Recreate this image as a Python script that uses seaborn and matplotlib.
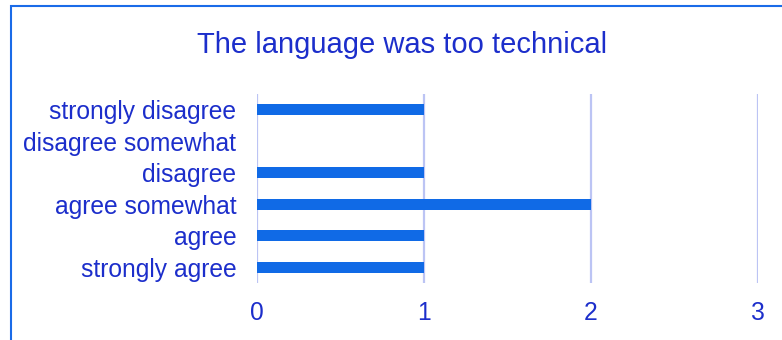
import matplotlib
matplotlib.use("Agg")
import matplotlib.pyplot as plt
from matplotlib.patches import Rectangle
import seaborn as sns
import pandas as pd

# Survey responses for the statement
categories = ["strongly disagree", "disagree somewhat", "disagree",
              "agree somewhat", "agree", "strongly agree"]
counts = [1, 0, 1, 2, 1, 1]
x_ticks = [0, 1, 2, 3]
title = "The language was too technical"

text_color = "#1c2ecb"
bar_color = "#106ae6"
grid_color = "#bcc4f4"
frame_color = "#1a6be8"

sns.set_theme(style="white")
plt.rcParams["font.family"] = ["Liberation Sans", "DejaVu Sans"]

df = pd.DataFrame({"response": categories, "count": counts})

fig = plt.figure(figsize=(7.82, 3.40), dpi=100)
ax = fig.add_axes([257 / 782, 1 - 283 / 340, 501 / 782, 189 / 340])

sns.barplot(data=df, x="count", y="response", orient="h", order=categories,
            color=bar_color, saturation=1, width=0.35, linewidth=0,
            ax=ax, zorder=3)

ax.set_xlim(0, 3)
ax.set_ylim(len(categories) - 0.5, -0.5)
ax.set_xticks(x_ticks)
ax.set_xticklabels([str(t) for t in x_ticks])
for t in x_ticks:
    ax.axvline(t, color=grid_color, lw=1.6, zorder=1)

ax.set_xlabel("")
ax.set_ylabel("")
for s in ax.spines.values():
    s.set_visible(False)
ax.tick_params(axis="both", length=0, labelsize=17.7, colors=text_color)
ax.tick_params(axis="y", pad=15)
ax.tick_params(axis="x", pad=13)

fig.text(402 / 782, 1 - 45 / 340, title, ha="center", va="center",
         fontsize=21, color=text_color)

# outer frame running off the right and bottom edges
fig.patches.append(Rectangle((10.5 / 782, -0.1), 1.0, 1.1 - 6.5 / 340,
                             transform=fig.transFigure, fill=False,
                             edgecolor=frame_color, lw=1.5, clip_on=False))

fig.savefig("out.png", dpi=100)
